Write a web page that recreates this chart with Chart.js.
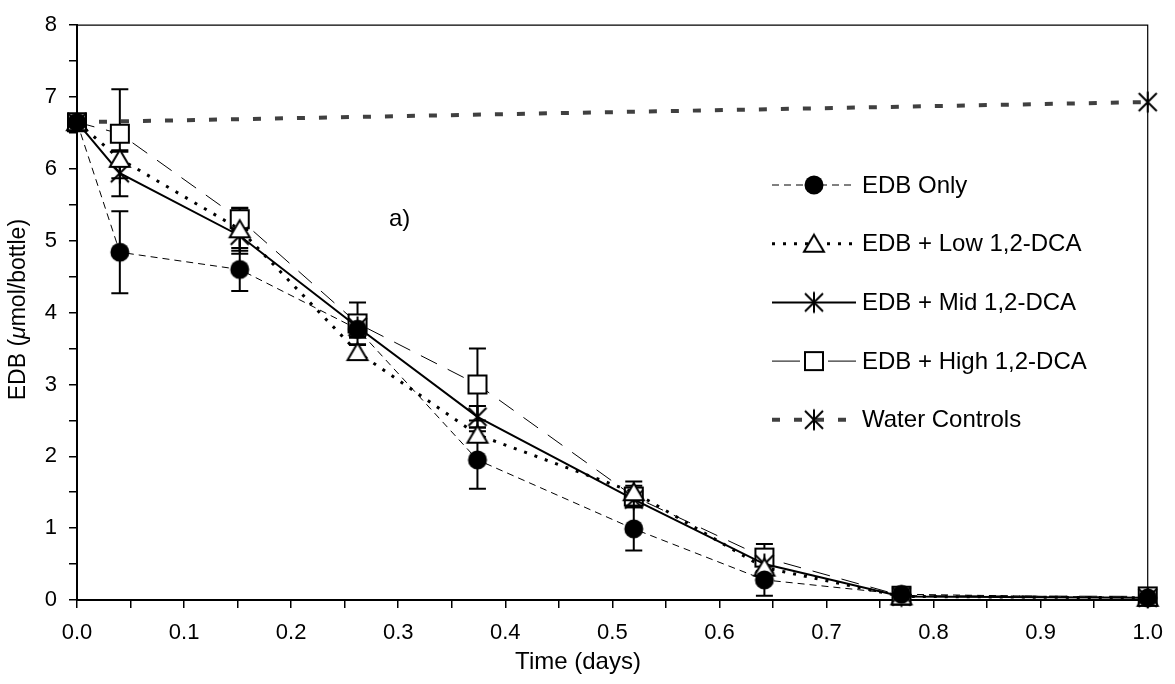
<!DOCTYPE html>
<html><head><meta charset="utf-8">
<script src="https://cdn.jsdelivr.net/npm/chart.js@4/dist/chart.umd.min.js"></script>
<style>html,body{margin:0;padding:0;background:#fff;} #wrap{width:1175px;height:684px;position:relative;}</style>
</head><body><div id="wrap"><canvas id="c" width="1175" height="684"></canvas></div>
<script>
// ---------- data ----------
const times = [0, 0.04, 0.152, 0.262, 0.374, 0.52, 0.642, 0.77, 1.0];
const edbOnly    = [6.65, 4.84, 4.60, 3.77, 1.95, 0.99, 0.28, 0.08, 0.03];
const edbOnlyErr = [0, 0.57, 0.30, 0.10, 0.40, 0.30, 0.22, 0.04, 0.02];
const edbLow     = [6.65, 6.14, 5.16, 3.45, 2.30, 1.50, 0.45, 0.05, 0.03];
const edbLowErr  = [0, 0.10, 0.30, 0.10, 0.10, 0.15, 0.10, 0.02, 0.02];
const edbMid     = [6.65, 5.94, 5.07, 3.80, 2.55, 1.40, 0.50, 0.05, 0.03];
const edbMidErr  = [0, 0.32, 0.25, 0.15, 0.15, 0.10, 0.10, 0.02, 0.02];
const edbHigh    = [6.65, 6.49, 5.30, 3.85, 3.00, 1.44, 0.59, 0.06, 0.05];
const edbHighErr = [0, 0.62, 0.15, 0.29, 0.50, 0.15, 0.19, 0.03, 0.02];
const waterTimes = [0, 1.0];
const water      = [6.65, 6.93];
const waterErr   = [0, 0];
const seriesLabels = ['EDB Only', 'EDB + Low 1,2-DCA', 'EDB + Mid 1,2-DCA', 'EDB + High 1,2-DCA', 'Water Controls'];
const xTickLabels = ['0.0','0.1','0.2','0.3','0.4','0.5','0.6','0.7','0.8','0.9','1.0'];
const yTickLabels = ['0','1','2','3','4','5','6','7','8'];
const xTitle = 'Time (days)';
const yTitleParts = [['EDB (', false], ['\u03bc', true], ['mol/bottle)', false]];
const panelLabel = 'a)';

const FONT = '"Liberation Sans", Arial, sans-serif';
Chart.defaults.font.family = FONT;
Chart.defaults.color = '#000';

// ---------- markers ----------
function mk(draw){ const c=document.createElement('canvas'); c.width=28; c.height=28; const g=c.getContext('2d'); g.translate(14,14); draw(g); return c; }
const circleM = mk(g=>{ g.beginPath(); g.arc(0,0,9.5,0,Math.PI*2); g.fillStyle='#000'; g.fill(); });
const triM = mk(g=>{ g.beginPath(); g.moveTo(0,-9); g.lineTo(10,8); g.lineTo(-10,8); g.closePath(); g.fillStyle='#fff'; g.fill(); g.lineWidth=2; g.strokeStyle='#000'; g.stroke(); });
const sqM = mk(g=>{ g.fillStyle='#fff'; g.fillRect(-9,-9,18,18); g.lineWidth=2; g.strokeStyle='#000'; g.strokeRect(-9,-9,18,18); });
const astM = mk(g=>{ g.beginPath(); g.moveTo(-9,-9); g.lineTo(9,9); g.moveTo(9,-9); g.lineTo(-9,9); g.moveTo(0,-10.5); g.lineTo(0,10.5); g.lineWidth=2; g.strokeStyle='#000'; g.stroke(); });

function pts(xs, ys){ return xs.map((t,i)=>({x:t, y:ys[i]})); }

const styles = [
  {marker:circleM, color:'#000', width:1, dash:[7,5]},
  {marker:triM, color:'#000', width:3, dash:[3,8]},
  {marker:astM, color:'#000', width:2, dash:[]},
  {marker:sqM, color:'#000', width:1, dash:[18,12]},
  {marker:astM, color:'#404040', width:4, dash:[8,14]}
];
const seriesData = [pts(times, edbOnly), pts(times, edbLow), pts(times, edbMid), pts(times, edbHigh), pts(waterTimes, water)];
const seriesErr = [edbOnlyErr, edbLowErr, edbMidErr, edbHighErr, waterErr];

const datasets = seriesData.map((d,i)=>({
  label: seriesLabels[i], data: d,
  borderColor: styles[i].color, borderWidth: styles[i].width, borderDash: styles[i].dash,
  pointStyle: styles[i].marker, pointRadius: 10, pointHoverRadius: 10,
  fill:false, tension:0, clip:false, errors: seriesErr[i]
}));

// ---------- plugins ----------
const errorBars = {
  id:'errorBars',
  beforeDatasetsDraw(chart){
    const ctx = chart.ctx, ys = chart.scales.y;
    ctx.save(); ctx.strokeStyle='#000'; ctx.lineWidth=2; ctx.setLineDash([]);
    chart.data.datasets.forEach((ds, di)=>{
      const meta = chart.getDatasetMeta(di);
      ds.data.forEach((p, i)=>{
        const e = ds.errors[i]; if (!e) return;
        const x = meta.data[i].x;
        const y1 = ys.getPixelForValue(p.y + e), y2 = ys.getPixelForValue(p.y - e);
        ctx.beginPath(); ctx.moveTo(x,y1); ctx.lineTo(x,y2);
        ctx.moveTo(x-8.5,y1); ctx.lineTo(x+8.5,y1);
        ctx.moveTo(x-8.5,y2); ctx.lineTo(x+8.5,y2);
        ctx.stroke();
      });
    });
    ctx.restore();
  }
};

const decor = {
  id:'decor',
  afterDraw(chart){
    const ctx = chart.ctx, a = chart.chartArea;
    ctx.save();
    // top and right frame
    ctx.strokeStyle='#000'; ctx.lineWidth=1.2; ctx.setLineDash([]);
    ctx.beginPath(); ctx.moveTo(a.left, a.top); ctx.lineTo(a.right, a.top); ctx.lineTo(a.right, a.bottom); ctx.stroke();
    // y title with italic mu
    ctx.translate(19, (a.top + a.bottom)/2 - 3);
    ctx.rotate(-Math.PI/2);
    ctx.fillStyle='#000'; ctx.textBaseline='middle'; ctx.textAlign='left';
    let total = 0;
    yTitleParts.forEach(([t,it])=>{ ctx.font=(it?'italic ':'')+'23px '+FONT; total += ctx.measureText(t).width; });
    let xx = -total/2;
    yTitleParts.forEach(([t,it])=>{ ctx.font=(it?'italic ':'')+'23px '+FONT; ctx.fillText(t, xx, 0); xx += ctx.measureText(t).width; });
    ctx.restore();

    // x title
    ctx.save();
    ctx.font='24px '+FONT; ctx.fillStyle='#000'; ctx.textBaseline='middle'; ctx.textAlign='center';
    ctx.fillText(xTitle, 578, 662);
    // panel label
    ctx.textAlign='left';
    ctx.fillText(panelLabel, 389, 219);
    ctx.restore();

    // legend
    ctx.save();
    const x0 = 772, x1 = 856, xm = 814, tx = 862;
    styles.forEach((s, i)=>{
      const y = 185 + i*58.7;
      ctx.strokeStyle = s.color; ctx.lineWidth = s.width;
      ctx.setLineDash(s.dash);
      ctx.beginPath();
      if (i === 3) { ctx.setLineDash([]); ctx.moveTo(x0,y); ctx.lineTo(x0+28,y); ctx.moveTo(x1-28,y); ctx.lineTo(x1,y); }
      else { ctx.moveTo(x0,y); ctx.lineTo(x1,y); }
      ctx.stroke();
      ctx.setLineDash([]);
      ctx.drawImage(s.marker, xm-14, y-14);
      ctx.font='24px '+FONT; ctx.fillStyle='#000'; ctx.textBaseline='middle'; ctx.textAlign='left';
      ctx.fillText(seriesLabels[i], tx, y+1);
    });
    ctx.restore();
  }
};

function labelFor(list, v, scale){
  const k = Math.round(v*scale);
  if (Math.abs(v*scale - k) > 1e-6) return '';
  return list[k] !== undefined ? list[k] : '';
}

new Chart(document.getElementById('c'), {
  type:'line',
  data:{ datasets },
  options:{
    responsive:false, animation:false,
    layout:{ padding:{ top:16, right:26, left:0, bottom:0 } },
    plugins:{ legend:{display:false}, tooltip:{enabled:false} },
    scales:{
      x:{ type:'linear', min:0, max:1, position:'bottom',
        ticks:{ stepSize:0.05, autoSkip:false, maxRotation:0, maxTicksLimit:100, padding:12, color:'#000', font:{size:22},
          callback:(v)=>labelFor(xTickLabels, v, 10) },
        grid:{ drawOnChartArea:false, drawTicks:true, tickLength:8, color:'#000', lineWidth:1.5 },
        border:{ display:true, color:'#000', width:2 },
        title:{ display:false },
        afterFit:(s)=>{ s.height = 84; }
      },
      y:{ type:'linear', min:0, max:8,
        ticks:{ stepSize:0.5, autoSkip:false, maxTicksLimit:100, padding:12, color:'#000', font:{size:22},
          callback:(v)=>labelFor(yTickLabels, v, 1) },
        grid:{ drawOnChartArea:false, drawTicks:true, tickLength:8, color:'#000', lineWidth:1.5 },
        border:{ display:true, color:'#000', width:2 },
        afterFit:(s)=>{ s.width = 77; }
      }
    }
  },
  plugins:[errorBars, decor]
});
</script>
</body></html>
